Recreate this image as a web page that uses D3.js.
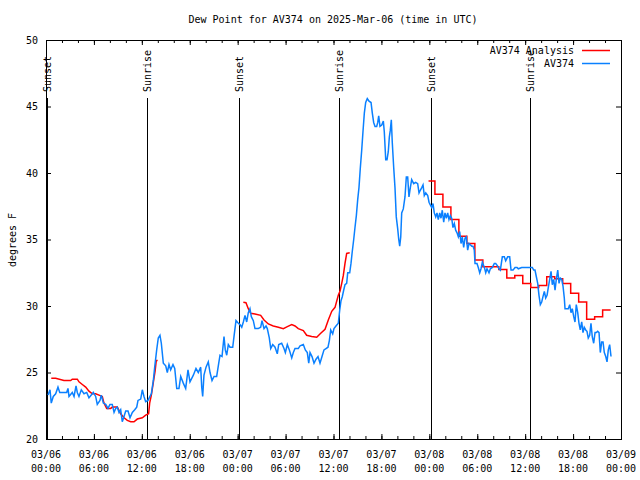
<!DOCTYPE html>
<html><head><meta charset="utf-8">
<script src="https://cdn.jsdelivr.net/npm/d3@7"></script>
<style>
body{margin:0;background:#fff;}
svg text{font-family:"DejaVu Sans Mono","Liberation Mono",monospace;font-size:10px;fill:#000;}
</style></head><body>
<svg id="c" width="640" height="480"></svg>
<script>
// ---------- data ----------
const title = "Dew Point for AV374 on 2025-Mar-06 (time in UTC)";
const yLabel = "degrees F";
const seriesNames = ["AV374 Analysis", "AV374"];
const startTime = "2025-03-06T00:00:00Z";   // hours below are counted from here
const spanHours = 72;
const yTicks = [20, 25, 30, 35, 40, 45, 50];
const sunsetHours = [0.15, 24.2, 48.25];
const sunriseHours = [12.68, 36.73, 60.64];

// AV374 observations
const obsHours = [
 0.25,0.50,0.66,0.91,1.21,1.50,1.72,2.59,2.75,2.88,
 3.29,3.51,3.76,3.92,4.13,4.42,4.76,5.10,5.38,5.67,
 5.92,6.22,6.42,6.76,6.92,7.18,7.48,7.76,8.01,8.30,
 8.52,8.73,8.93,9.14,9.35,9.55,9.77,9.98,10.27,10.52,
 10.81,11.11,11.36,11.52,11.86,12.06,12.27,12.48,12.77,13.02,
 13.19,13.44,13.61,13.86,14.06,14.27,14.44,14.69,14.99,15.19,
 15.40,15.61,15.90,16.12,16.37,16.65,16.87,17.19,17.49,17.78,
 18.03,18.45,18.78,19.07,19.37,19.50,19.62,19.78,20.04,20.32,
 20.54,20.79,21.04,21.37,21.63,21.79,22.04,22.29,22.45,22.63,
 22.83,23.04,23.38,23.54,23.79,24.08,24.29,24.51,24.71,24.92,
 25.13,25.33,25.54,25.71,25.96,26.17,26.58,26.88,27.05,27.30,
 27.55,27.71,27.96,28.14,28.39,28.68,28.96,29.14,29.51,29.80,
 29.97,30.22,30.47,30.77,30.97,31.18,31.59,31.81,32.22,32.47,
 32.72,32.90,33.06,33.31,33.56,33.81,34.06,34.31,34.56,34.81,
 35.06,35.31,35.48,35.65,35.90,36.06,36.31,36.60,36.78,36.94,
 37.10,37.28,37.44,37.65,37.78,38.03,38.19,38.35,38.53,38.69,
 38.86,39.03,39.19,39.36,39.53,39.69,39.86,40.03,40.23,40.45,
 40.70,40.86,41.03,41.20,41.41,41.54,41.66,41.82,42.04,42.24,
 42.36,42.54,42.70,42.86,42.99,43.11,43.24,43.36,43.54,43.70,
 43.86,44.04,44.17,44.29,44.42,44.54,44.74,44.95,45.12,45.29,
 45.45,45.62,45.79,46.04,46.29,46.54,46.71,46.87,47.05,47.21,
 47.37,47.55,47.80,47.96,48.12,48.30,48.46,48.62,48.80,48.96,
 49.12,49.30,49.46,49.62,49.80,49.96,50.13,50.30,50.46,50.63,
 50.80,50.96,51.13,51.30,51.47,51.63,51.80,51.97,52.13,52.30,
 52.47,52.63,52.80,52.97,53.13,53.31,53.47,53.63,53.72,53.97,
 54.13,54.31,54.47,54.64,54.89,55.06,55.22,55.47,55.64,55.89,
 56.14,56.31,56.56,56.72,56.89,57.14,57.39,57.56,57.81,58.06,
 58.23,58.48,58.73,58.98,59.14,59.57,59.98,60.61,60.89,61.07,
 61.23,61.40,61.57,61.73,61.90,62.07,62.23,62.40,62.57,62.74,
 62.90,63.07,63.24,63.40,63.57,63.74,63.90,64.08,64.24,64.40,
 64.58,64.74,64.90,64.99,65.24,65.40,65.58,65.74,65.90,66.08,
 66.24,66.40,66.58,66.74,66.90,67.08,67.24,67.40,67.58,67.74,
 67.90,68.08,68.24,68.40,68.58,68.75,68.91,69.08,69.25,69.41,
 69.58,69.75,69.91,70.09,70.25,70.41,70.58,70.75
];
const obsDew = [
 23.3,23.7,22.7,23.2,23.4,23.9,23.5,23.5,23.8,23.2,
 23.5,23.2,24.0,23.5,23.2,23.7,23.4,23.5,23.1,23.3,
 23.5,23.2,22.6,22.9,23.3,22.7,22.6,22.3,22.6,22.6,
 22.0,22.3,22.4,22.0,22.2,21.3,21.7,22.1,22.1,21.6,
 22.0,22.2,22.4,22.9,23.0,23.7,23.2,22.8,22.9,23.2,
 23.4,24.4,25.4,26.7,27.6,27.8,27.2,25.7,25.5,25.0,
 25.6,25.2,25.6,25.3,23.8,23.8,24.7,24.2,23.8,25.2,
 24.3,24.8,25.3,25.0,25.4,23.9,23.2,24.8,25.4,25.8,
 25.0,24.4,24.7,24.7,25.7,26.3,26.2,27.7,26.7,26.3,
 27.1,26.9,26.9,27.7,28.9,28.7,28.6,28.4,28.8,29.3,
 28.8,29.5,29.8,29.2,28.9,28.3,28.3,28.4,28.9,28.3,
 28.5,28.3,27.6,26.8,27.1,26.9,26.4,27.1,27.2,26.8,
 26.5,27.1,26.7,26.1,26.5,26.8,26.8,27.0,27.1,26.7,
 26.5,25.7,26.5,26.2,25.7,26.0,26.2,25.7,26.2,26.7,
 26.8,26.9,27.4,28.2,27.9,28.3,28.5,28.7,29.7,30.4,
 30.7,31.2,31.6,31.7,32.5,32.5,33.2,34.1,35.0,35.9,
 36.8,38.0,38.9,40.4,41.7,43.1,44.5,45.3,45.6,45.4,
 45.3,44.5,43.8,43.5,43.5,43.8,44.3,43.5,43.6,43.9,
 43.1,41.0,41.0,41.6,42.7,43.2,44.0,42.3,40.4,38.9,
 36.7,35.8,35.0,34.5,35.2,37.0,37.3,38.2,39.7,39.7,
 38.2,38.9,39.5,39.2,39.3,39.2,38.5,38.7,38.9,39.1,
 38.3,38.5,38.3,37.8,37.6,37.4,37.7,37.0,36.7,37.0,
 36.5,37.0,36.6,37.2,36.3,37.0,36.6,37.0,36.5,36.8,
 36.6,35.9,36.2,35.7,35.5,35.2,35.6,34.7,35.2,34.4,
 35.1,35.2,34.2,34.7,34.6,34.5,34.5,34.2,33.2,33.2,
 32.9,32.5,32.8,33.3,32.9,32.5,32.8,32.5,32.8,32.9,
 33.2,33.2,33.0,32.8,32.7,33.7,33.7,33.4,33.7,33.7,
 32.7,32.7,32.9,32.9,32.8,32.9,32.9,32.9,32.9,32.7,
 32.7,32.2,31.7,30.8,30.1,30.3,30.7,31.1,30.6,30.8,
 31.4,32.0,32.6,31.6,32.0,31.2,32.0,32.7,31.7,32.1,
 32.0,31.5,30.6,29.8,29.8,29.8,30.1,29.5,29.8,29.2,
 28.8,30.1,29.5,28.7,28.2,28.8,28.0,28.4,28.2,28.1,
 27.6,27.8,28.7,27.7,27.2,28.0,28.0,28.1,28.0,26.5,
 27.3,27.3,26.5,26.2,25.8,26.7,27.1,26.2
];

// AV374 Analysis, smooth part (null = no value, gap)
const anaHours = [
 0.66,1.21,2.25,3.09,3.29,3.92,4.13,4.55,4.97,5.38,
 5.80,6.22,6.64,7.05,7.26,7.60,8.10,8.30,8.93,9.35,
 9.77,10.18,10.61,11.02,11.43,12.06,12.48,12.85,12.98,13.19,
 13.45,13.66,13.81,13.98,
 18.0,
 24.71,25.04,25.33,25.63,26.17,26.88,27.30,27.84,28.46,29.09,
 29.72,30.22,30.77,31.18,31.59,32.22,32.64,33.27,33.90,34.40,
 34.94,35.35,35.78,36.19,36.60,36.81,37.03,37.23,37.44,37.65,
 38.03
];
const anaDew = [
 24.56,24.56,24.4,24.4,24.5,24.5,24.3,24.1,23.9,23.6,
 23.4,23.4,23.3,23.2,22.7,22.3,22.3,22.4,22.4,21.9,
 21.6,21.4,21.3,21.3,21.5,21.6,21.8,21.9,22.7,23.3,
 24.3,25.1,25.9,25.9,
 null,
 30.28,30.25,29.8,29.45,29.4,29.3,28.95,28.65,28.5,28.4,
 28.3,28.45,28.6,28.5,28.3,28.15,27.8,27.7,27.65,27.95,
 28.25,28.95,29.6,29.9,30.8,31.1,31.7,32.3,33.2,33.95,
 34.0
];
// AV374 Analysis, hourly stepped part
const anaStepHours = [47.9,48.7,49.7,50.7,51.7,52.7,53.7,54.7,55.7,56.7,57.7,58.7,
 59.7,60.7,61.7,62.7,63.7,64.7,65.7,66.7,67.7,68.7,69.7,70.7];
const anaStepDew = [39.4,38.4,37.45,36.5,35.25,34.7,33.45,32.95,32.95,32.75,32.1,32.3,
 31.7,31.4,31.55,32.2,32.05,31.7,30.95,30.3,29.0,29.2,29.7,29.7];

// ---------- drawing ----------
const colors = {ana: "#ff0000", obs: "#0a80ff"};
const L = 46, R = 621, T = 40, B = 439;
const svg = d3.select("#c");
svg.append("rect").attr("width", 640).attr("height", 480).attr("fill", "#fff");

const t0 = new Date(startTime);
const toDate = h => new Date(t0.getTime() + h * 3600e3);
const x = d3.scaleUtc().domain([t0, toDate(spanHours)]).range([L, R]);
const y = d3.scaleLinear().domain([20, 50]).range([B, T]);

const minorTicks = d3.utcHour.every(2).range(t0, toDate(spanHours + 0.01));
const majorTicks = d3.utcHour.every(6).range(t0, toDate(spanHours + 0.01));

function styleAxis(g) {
  g.select(".domain").remove();
  g.selectAll("line").attr("stroke", "#000");
  g.selectAll("text").attr("font-family", null).attr("font-size", null);
  g.attr("font-family", null).attr("font-size", null);
}
// bottom / top ticks (inward)
svg.append("g").attr("transform", `translate(0,${B})`)
  .call(d3.axisBottom(x).tickValues(minorTicks).tickSizeInner(-3).tickSizeOuter(0).tickFormat(""))
  .call(styleAxis);
svg.append("g").attr("transform", `translate(0,${B})`)
  .call(d3.axisBottom(x).tickValues(majorTicks).tickSizeInner(-5).tickSizeOuter(0).tickFormat(""))
  .call(styleAxis);
svg.append("g").attr("transform", `translate(0,${T})`)
  .call(d3.axisTop(x).tickValues(minorTicks).tickSizeInner(-3).tickSizeOuter(0).tickFormat(""))
  .call(styleAxis);
svg.append("g").attr("transform", `translate(0,${T})`)
  .call(d3.axisTop(x).tickValues(majorTicks).tickSizeInner(-5).tickSizeOuter(0).tickFormat(""))
  .call(styleAxis);
// left / right ticks
svg.append("g").attr("transform", `translate(${L},0)`)
  .call(d3.axisLeft(y).tickValues(yTicks).tickSizeInner(-5).tickSizeOuter(0).tickPadding(8).tickFormat(d3.format("d")))
  .call(styleAxis);
svg.append("g").attr("transform", `translate(${R},0)`)
  .call(d3.axisRight(y).tickValues(yTicks).tickSizeInner(-5).tickSizeOuter(0).tickFormat(""))
  .call(styleAxis);

// x labels (two lines)
const fmtD = d3.utcFormat("%m/%d"), fmtT = d3.utcFormat("%H:%M");
const xl = svg.append("g").selectAll("text").data(majorTicks).join("text")
  .attr("text-anchor", "middle");
xl.append("tspan").attr("x", d => x(d)).attr("y", 457.5).text(fmtD);
xl.append("tspan").attr("x", d => x(d)).attr("y", 472).text(fmtT);

// frame
svg.append("rect").attr("x", L + 0.5).attr("y", T + 0.5)
  .attr("width", R - L).attr("height", B - T)
  .attr("fill", "none").attr("stroke", "#000").attr("stroke-width", 1);

// sunrise / sunset markers
const sunEvents = sunsetHours.map(h => ({h, label: "Sunset"}))
  .concat(sunriseHours.map(h => ({h, label: "Sunrise"})));
const sg = svg.append("g");
sg.selectAll("line").data(sunEvents).join("line")
  .attr("x1", d => Math.round(x(toDate(d.h))) + 0.5).attr("x2", d => Math.round(x(toDate(d.h))) + 0.5)
  .attr("y1", 98).attr("y2", B)
  .attr("stroke", "#000").attr("stroke-width", 1);
sg.selectAll("text").data(sunEvents).join("text")
  .attr("transform", d => `translate(${Math.round(x(toDate(d.h))) + 0.5},92) rotate(-90)`)
  .attr("dy", "0.35em").attr("text-anchor", "start").text(d => d.label);

// data lines
const obsData = obsHours.map((h, i) => ({t: toDate(h), v: obsDew[i]}));
const anaData = anaHours.map((h, i) => ({t: toDate(h), v: anaDew[i]}));
const stepData = anaStepHours.map((h, i) => ({t: toDate(h), v: anaStepDew[i]}));
const line = d3.line().defined(d => d.v != null).x(d => x(d.t)).y(d => y(d.v));
const stepLine = d3.line().curve(d3.curveStepAfter).x(d => x(d.t)).y(d => y(d.v));

svg.append("path").datum(anaData).attr("d", line)
  .attr("fill", "none").attr("stroke", colors.ana).attr("stroke-width", 1.5);
svg.append("path").datum(stepData).attr("d", stepLine)
  .attr("fill", "none").attr("stroke", colors.ana).attr("stroke-width", 1.5);
svg.append("path").datum(obsData).attr("d", line)
  .attr("fill", "none").attr("stroke", colors.obs).attr("stroke-width", 1.5);

// legend
const lg = svg.append("g");
[[seriesNames[0], colors.ana, 50], [seriesNames[1], colors.obs, 63]].forEach(([name, c, ly]) => {
  lg.append("text").attr("x", 574).attr("y", ly).attr("dy", "0.35em").attr("text-anchor", "end").text(name);
  lg.append("line").attr("x1", 582).attr("x2", 610).attr("y1", ly + 0.5).attr("y2", ly + 0.5)
    .attr("stroke", c).attr("stroke-width", 1.5);
});

// title & y label
svg.append("text").attr("x", 333).attr("y", 23).attr("text-anchor", "middle").text(title);
svg.append("text").attr("transform", "translate(12,240) rotate(-90)")
  .attr("dy", "0.35em").attr("text-anchor", "middle").text(yLabel);
</script>
</body></html>
